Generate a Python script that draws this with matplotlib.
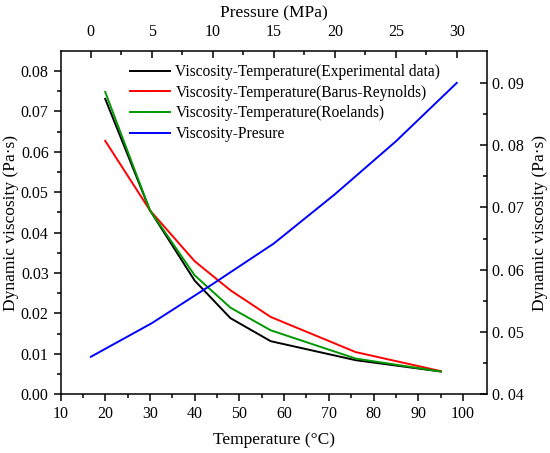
import numpy as np
import matplotlib
matplotlib.use("Agg")
from matplotlib import pyplot as plt
from matplotlib.ticker import MultipleLocator, FixedLocator

plt.rcParams['font.family'] = ['Liberation Serif', 'DejaVu Serif']
plt.rcParams['mathtext.fontset'] = 'stix'

# temperature data (bottom / left axes)
temperatura = [20, 30, 40, 48, 57, 76, 95]
visc_exp = [0.0731, 0.0455, 0.0281, 0.0188, 0.0131, 0.0084, 0.0056]
visc_barus = [0.0627, 0.0455, 0.0329, 0.0257, 0.0191, 0.0104, 0.0057]
visc_roelands = [0.0748, 0.0455, 0.0294, 0.0214, 0.0158, 0.0088, 0.0056]

# pressure data (top / right axes)
pressao = [0, 5, 10, 15, 20, 25, 30]
visc_pressao = [0.0460, 0.0514, 0.0577, 0.0642, 0.0721, 0.0806, 0.0900]

right_ticks = [0.04, 0.05, 0.06, 0.07, 0.08, 0.09]
right_labels = ['0. 04', '0. 05', '0. 06', '0. 07', '0. 08', '0. 09']

fig = plt.figure(figsize=(5.5, 4.53), dpi=100)
pos = [0.110, 0.130, 0.775, 0.757]
ax = fig.add_axes(pos)
ax2 = fig.add_axes(pos, frameon=False)

lw = 1.4
l1, = ax.plot(temperatura, visc_exp, color='black', lw=lw,
              label='Viscosity-Temperature(Experimental data)')
l2, = ax.plot(temperatura, visc_barus, color='red', lw=lw,
              label='Viscosity-Temperature(Barus-Reynolds)')
l3, = ax.plot(temperatura, visc_roelands, color='#009900', lw=lw,
              label='Viscosity-Temperature(Roelands)')
l4, = ax2.plot(pressao, visc_pressao, color='blue', lw=lw,
               label='Viscosity-Presure')

ax.set_xlim(10, 105.3)
ax.set_ylim(0, 0.0849)
ax.xaxis.set_major_locator(FixedLocator(np.arange(10, 101, 10)))
ax.xaxis.set_minor_locator(FixedLocator(np.arange(15, 101, 10)))
ax.yaxis.set_major_locator(MultipleLocator(0.01))
ax.yaxis.set_minor_locator(MultipleLocator(0.005))
ax.yaxis.set_major_formatter(matplotlib.ticker.FormatStrFormatter('%.2f'))
ax.tick_params(which='both', direction='out', labelsize=11.5, width=1.1)
ax.tick_params(which='major', length=5)
ax.tick_params(which='minor', length=3)
ax.set_xlabel('Temperature (°C)', fontsize=12.5, labelpad=7)
ax.set_ylabel('Dynamic viscosity (Pa·s)', fontsize=12.5, labelpad=1)

ax2.set_xlim(-2.49, 32.46)
ax2.set_ylim(0.04, 0.0951)
ax2.xaxis.tick_top()
ax2.xaxis.set_label_position('top')
ax2.yaxis.tick_right()
ax2.yaxis.set_label_position('right')
ax2.xaxis.set_major_locator(MultipleLocator(5))
ax2.xaxis.set_minor_locator(FixedLocator(np.arange(2.5, 31, 5)))
ax2.set_yticks(right_ticks)
ax2.set_yticklabels(right_labels)
ax2.yaxis.set_minor_locator(FixedLocator(np.arange(0.045, 0.095, 0.01)))
ax2.tick_params(which='both', direction='in', labelsize=11.5, width=1.1)
ax2.tick_params(which='major', length=5)
ax2.tick_params(which='minor', length=3)
ax2.tick_params(axis='x', pad=8)
ax2.set_xlabel('Pressure (MPa)', fontsize=12.5, labelpad=5)
ax2.set_ylabel('Dynamic viscosity (Pa·s)', fontsize=12.5, labelpad=6)

for s in ax.spines.values():
    s.set_linewidth(1.1)

ax.legend(handles=[l1, l2, l3, l4], loc='upper left',
          bbox_to_anchor=(0.14, 0.99), frameon=False, fontsize=11.2,
          handlelength=2.6, handletextpad=0.35, labelspacing=0.3,
          borderaxespad=0.2)

fig.savefig('out.png', dpi=100)
